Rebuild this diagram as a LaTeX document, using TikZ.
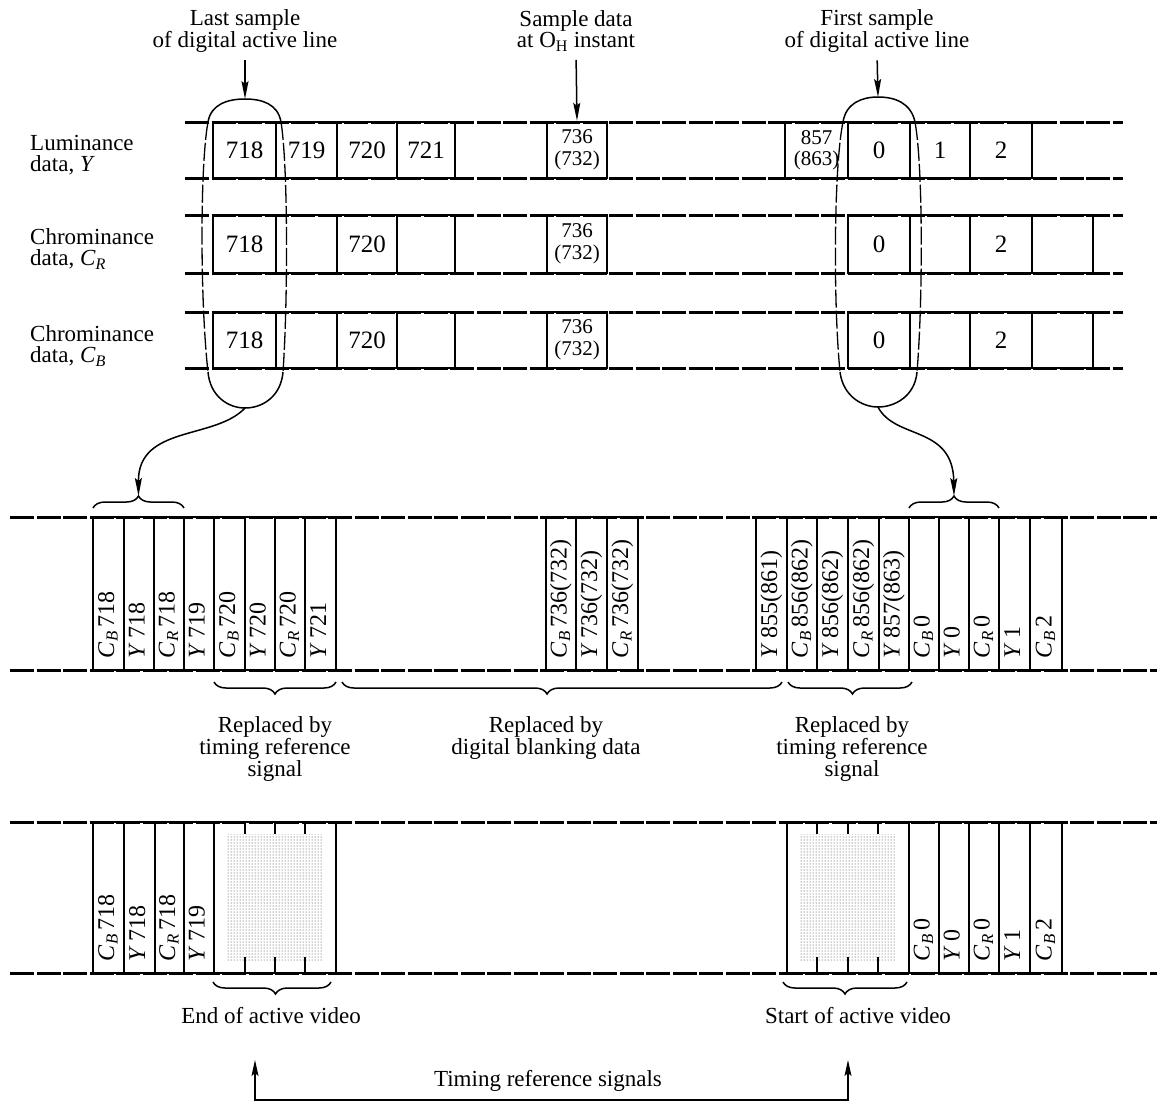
\documentclass[tikz,border=0pt]{standalone}
\usepackage{fontspec}
\setmainfont{Liberation Serif}
\usetikzlibrary{arrows.meta,decorations.pathreplacing,patterns}
\newcommand{\mycb}{\textit{C}\textsubscript{\textit{B}}}
\newcommand{\mycr}{\textit{C}\textsubscript{\textit{R}}}
\newcommand{\myy}{\textit{Y}}
\begin{document}
\begin{tikzpicture}[x=1pt,y=-1pt,
  rail/.style={line width=3pt, dash pattern=on 24pt off 2.5pt},
  box/.style={draw, line width=2.5pt, inner sep=0pt, font=\fontsize{25}{25}\selectfont},
  box2/.style={box, align=center, font=\fontsize{21}{21.5}\selectfont},
  vcell/.style={draw, line width=2.5pt, inner sep=0pt, minimum height=153pt},
  rot/.style={rotate=90, anchor=west, inner sep=0pt, text height=16pt, text depth=5pt, font=\fontsize{24}{24}\selectfont},
  txt/.style={inner sep=0pt, font=\fontsize{23}{21.5}\selectfont},
  txt2/.style={inner sep=0pt, align=center, font=\fontsize{23}{22}\selectfont},
  loopline/.style={line width=1.5pt},
  loopdash/.style={line width=1.3pt, dash pattern=on 18pt off 3pt},
  arr/.style={line width=1.5pt, -{Stealth[length=18pt,width=7pt,inset=3pt]}},
  brc/.style={line width=1.5pt, decorate, decoration={brace, amplitude=12pt}},
  tick/.style={line width=2.5pt}
]
\fill[white] (0,0) rectangle (1157,1104);
\useasboundingbox (0,0) rectangle (1157,1104);

% ---------- top labels ----------
\node[txt, align=center] (lastlbl) at (245,31) {Last sample\\of digital active line};
\node[txt, align=center] (ohlbl) at (576,31) {Sample data\\at O\textsubscript{H} instant};
\node[txt, align=center] (firstlbl) at (877,31) {First sample\\of digital active line};

\node[txt, align=left, anchor=west] (lumlbl) at (30,155) {Luminance\\data, \myy};
\node[txt, align=left, anchor=west] (crlbl) at (30,249) {Chrominance\\data, \mycr};
\node[txt, align=left, anchor=west] (cblbl) at (30,346) {Chrominance\\data, \mycb};

% ---------- top rails ----------
\foreach \yy in {122,178,215,273,312,368}
  \draw[rail] (185,\yy) -- (1123,\yy);

% ---------- luminance row ----------
\node[box, minimum width=63pt, minimum height=56pt] (y718) at (244.5,150) {718};
\node[box, minimum width=61pt, minimum height=56pt] (y719) at (306.5,150) {719};
\node[box, minimum width=60pt, minimum height=56pt] (y720) at (367,150) {720};
\node[box, minimum width=58pt, minimum height=56pt] (y721) at (426,150) {721};
\node[box2, minimum width=60pt, minimum height=56pt] (y736) at (577,150) {736\\(732)};
\node[box2, minimum width=63pt, minimum height=56pt] (y857) at (816.5,150) {857\\(863)};
\node[box, minimum width=62pt, minimum height=56pt] (y0) at (879,150) {0};
\node[box, minimum width=60pt, minimum height=56pt] (y1) at (940,150) {1};
\node[box, minimum width=62pt, minimum height=56pt] (y2) at (1001,150) {2};

% ---------- chrominance rows ----------
\foreach \p/\yc/\hh in {cr/244/58, cb/340/56}{
  \node[box, minimum width=63pt, minimum height=\hh pt] (\p718) at (244.5,\yc) {718};
  \node[box, minimum width=61pt, minimum height=\hh pt] (\p e1) at (306.5,\yc) {};
  \node[box, minimum width=60pt, minimum height=\hh pt] (\p720) at (367,\yc) {720};
  \node[box, minimum width=58pt, minimum height=\hh pt] (\p e2) at (426,\yc) {};
  \node[box2, minimum width=60pt, minimum height=\hh pt] (\p736) at (577,\yc) {736\\(732)};
  \node[box, minimum width=62pt, minimum height=\hh pt] (\p0) at (879,\yc) {0};
  \node[box, minimum width=60pt, minimum height=\hh pt] (\p e3) at (940,\yc) {};
  \node[box, minimum width=62pt, minimum height=\hh pt] (\p2) at (1001,\yc) {2};
  \node[box, minimum width=61pt, minimum height=\hh pt] (\p e4) at (1062.5,\yc) {};
}

% ---------- selection loops ----------
\coordinate (LA1) at (208,122); \coordinate (LA2) at (281,122);
\coordinate (LT) at (245,99);
\coordinate (LB1) at (208,372); \coordinate (LB2) at (283,372);
\coordinate (LU) at (245,408);
\draw[loopline] (LA1) .. controls (211,104) and (228,99) .. (LT) .. controls (262,99) and (278,104) .. (LA2);
\draw[loopdash] (LA1) .. controls (200,165) and (200,300) .. (LB1);
\draw[loopdash] (LA2) .. controls (288,165) and (288,300) .. (LB2);
\draw[loopline] (LB1) .. controls (210,396) and (228,408) .. (LU) .. controls (263,408) and (281,396) .. (LB2);

\coordinate (RA1) at (843,122); \coordinate (RA2) at (915,122);
\coordinate (RT) at (878,97);
\coordinate (RB1) at (840,372); \coordinate (RB2) at (917,372);
\coordinate (RU) at (878,407);
\draw[loopline] (RA1) .. controls (846,103) and (862,97) .. (RT) .. controls (895,97) and (911,103) .. (RA2);
\draw[loopdash] (RA1) .. controls (834,165) and (833,300) .. (RB1);
\draw[loopdash] (RA2) .. controls (923,165) and (923,300) .. (RB2);
\draw[loopline] (RB1) .. controls (843,396) and (862,407) .. (RU) .. controls (895,407) and (915,396) .. (RB2);

% arrows from labels
\draw[arr, shorten <=8pt] (lastlbl.south) -- (LT);
\draw[arr, shorten <=8pt] (ohlbl.south) -- (y736.north);
\draw[arr, shorten <=8pt] (firstlbl.south) -- (RT);

% ---------- middle row ----------
\foreach \yy in {517,670}
  \draw[rail] (10,\yy) -- (1157,\yy);

\foreach \a/\b/\n/\t in {
  93/124/ma/{\mycb\,718}, 124/154/mb/{\myy\,718}, 154/184/mc/{\mycr\,718}, 184/214/md/{\myy\,719},
  214/245/me/{\mycb\,720}, 245/275/mf/{\myy\,720}, 275/305/mg/{\mycr\,720}, 305/336/mh/{\myy\,721},
  546/576/mi/{\mycb\,736(732)}, 576/607/mj/{\myy\,736(732)}, 607/638/mk/{\mycr\,736(732)},
  756/787/ml/{\myy\,855(861)}, 787/817/mm/{\mycb\,856(862)}, 817/848/mn/{\myy\,856(862)},
  848/879/mo/{\mycr\,856(862)}, 879/909/mp/{\myy\,857(863)}, 909/939/mq/{\mycb\,0},
  939/969/mr/{\myy\,0}, 969/999/ms/{\mycr\,0}, 999/1030/mt/{\myy\,1}, 1030/1062/mu/{\mycb\,2}}{
  \node[vcell, minimum width={(\b-\a)*1pt}] (\n) at ({(\a+\b)/2},593.5) {};
  \node[rot] (\n-t) at ([yshift=13pt]\n.south) {\t};
}

% braces above middle row
\draw[brc] (93,508) -- coordinate[pos=0.5, yshift=12pt] (BLt) (184,508);
\draw[brc] (909,508) -- coordinate[pos=0.5, yshift=12pt] (BRt) (999,508);
\draw[arr] (LU) .. controls (215,440) and (138,425) .. (BLt);
\draw[arr] (RU) .. controls (895,440) and (953,425) .. (BRt);

% braces below middle row
\draw[brc] (336,682) -- (214,682);
\draw[brc, decoration={aspect=0.534}] (782,682) -- (342,682);
\draw[brc, decoration={aspect=0.48}] (912,682) -- (788,682);
\node[txt2] (rep1) at (275,749) {Replaced by\\timing reference\\signal};
\node[txt2] (rep2) at (546,738) {Replaced by\\digital blanking data};
\node[txt2] (rep3) at (852,749) {Replaced by\\timing reference\\signal};

% ---------- bottom row ----------
\foreach \yy in {822,973}
  \draw[rail] (10,\yy) -- (1157,\yy);

\foreach \a/\b/\n/\t in {
  93/124/ba/{\mycb\,718}, 124/155/bb/{\myy\,718}, 155/184/bc/{\mycr\,718}, 184/214/bd/{\myy\,719},
  909/939/be/{\mycb\,0}, 939/969/bf/{\myy\,0}, 969/999/bg/{\mycr\,0}, 999/1030/bh/{\myy\,1}, 1030/1062/bi/{\mycb\,2}}{
  \node[vcell, minimum height=151pt, minimum width={(\b-\a)*1pt}] (\n) at ({(\a+\b)/2},897.5) {};
  \node[rot] (\n-t) at ([yshift=13pt]\n.south) {\t};
}

% dotted timing reference blocks
\foreach \a/\b/\n in {214/336/dl, 787/909/dr}{
  \node[vcell, minimum height=151pt, minimum width={(\b-\a)*1pt}] (\n) at ({(\a+\b)/2},897.5) {};
  \fill[pattern=dots, pattern color=black!80] (\a+12,834) rectangle (\b-14,960);
}
\foreach \xx in {245,275,305,817,848,878}{
  \draw[tick] (\xx,822) -- (\xx,834);
  \draw[tick] (\xx,957) -- (\xx,973);
}

\draw[brc, decoration={aspect=0.47}] (331,982) -- (213,982);
\draw[brc, decoration={aspect=0.5}] (907,982) -- (783,982);
\node[txt] (endlbl) at (271,1015) {End of active video};
\node[txt] (startlbl) at (858,1015) {Start of active video};

% ---------- timing reference signals ----------
\coordinate (TL) at (255,1100); \coordinate (TR) at (848,1100);
\coordinate (TLt) at (255,1060); \coordinate (TRt) at (848,1060);
\draw[line width=1.5pt, {Stealth[length=16pt,width=7pt,inset=3pt]}-{Stealth[length=16pt,width=7pt,inset=3pt]}] (TLt) -- (TL) -- (TR) -- (TRt);
\node[txt] (timlbl) at (548,1081) {Timing reference signals};
\end{tikzpicture}
\end{document}
